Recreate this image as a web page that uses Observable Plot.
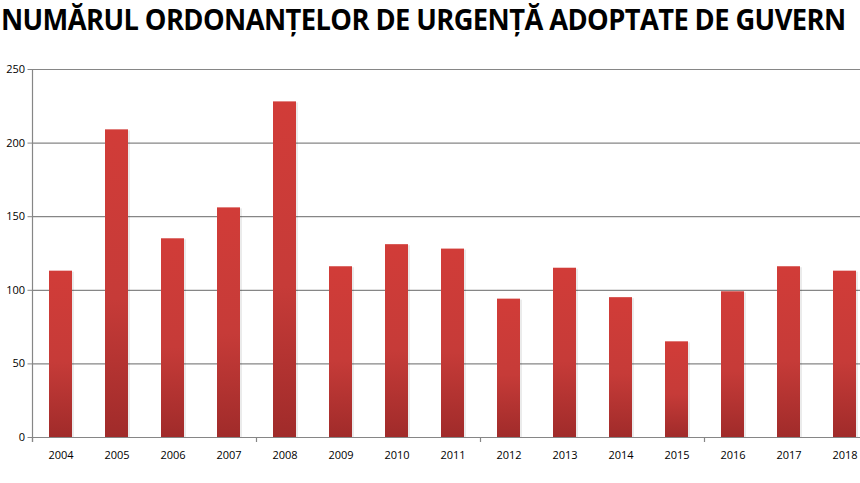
<!DOCTYPE html>
<html><head><meta charset="utf-8">
<script src="https://cdn.jsdelivr.net/npm/d3@7"></script>
<script src="https://cdn.jsdelivr.net/npm/@observablehq/plot@0.6"></script>
<style>
html,body{margin:0;padding:0;background:#fff;overflow:hidden;}
#wrap{width:860px;height:483px;overflow:hidden;position:relative;}
#title{height:45px;font-family:"Open Sans",sans-serif;font-weight:700;font-size:29px;color:#000;white-space:nowrap;line-height:38px;padding-left:1px;letter-spacing:-0.6px;transform:scaleX(0.94);transform-origin:0 0;}
#chart svg{max-width:none !important;}
</style></head>
<body><div id="wrap"><div id="title">NUMĂRUL ORDONANȚELOR DE URGENȚĂ ADOPTATE DE GUVERN</div><div id="chart"></div></div>
<script>
const years = ["2004","2005","2006","2007","2008","2009","2010","2011","2012","2013","2014","2015","2016","2017","2018"];
const counts = [113, 209, 135, 156, 228, 116, 131, 128, 94, 115, 95, 65, 99, 116, 113];
const yTicks = [0, 50, 100, 150, 200, 250];
const data = years.map((y, i) => ({year: y, value: counts[i]}));
const boundaryTicks = years.filter((d, i) => i % 4 === 0);

const plot = Plot.plot({
  width: 873,
  height: 438,
  marginLeft: 32.5,
  marginRight: 0,
  marginTop: 24,
  marginBottom: 46,
  style: {fontFamily: "'Open Sans', sans-serif", fontSize: "11px", color: "#000", overflow: "visible", maxWidth: "none"},
  x: {domain: years, paddingInner: 0.59, paddingOuter: 0.295, align: 0.5, label: null, axis: null},
  y: {domain: [0, 250], ticks: yTicks, label: null, axis: null},
  marks: [
    () => {
      const ns = "http://www.w3.org/2000/svg";
      const defs = document.createElementNS(ns, "defs");
      defs.innerHTML = `<linearGradient id="barGrad" x1="0" y1="0" x2="0" y2="1">
        <stop offset="0" stop-color="#d13c38"/>
        <stop offset="0.55" stop-color="#c63b38"/>
        <stop offset="1" stop-color="#a02b2a"/></linearGradient>`;
      return defs;
    },
    Plot.ruleY(yTicks.filter(d => d > 0), {stroke: "#868686", strokeWidth: 1.2}),
    Plot.barY(data, {x: "year", y: "value", fill: "#000", fillOpacity: 0.08, dx: 2, dy: 1}),
    Plot.barY(data, {x: "year", y: "value", fill: "url(#barGrad)"}),
    Plot.ruleY([0], {stroke: "#868686", strokeWidth: 1.2}),
    Plot.axisY({ticks: yTicks, tickSize: 5, tickPadding: 3, stroke: "#868686", fill: "#000", fontSize: 11}),
    Plot.axisX({tickSize: 0, tickPadding: 14, fill: "#000", fontSize: 11}),
    (index, scales, values, dims) => {
      const ns = "http://www.w3.org/2000/svg";
      const g = document.createElementNS(ns, "g");
      const x = scales.x, step = x.step();
      const y0 = scales.y(0), y1 = scales.y(250);
      const vl = document.createElementNS(ns, "line");
      vl.setAttribute("x1", dims.marginLeft); vl.setAttribute("x2", dims.marginLeft);
      vl.setAttribute("y1", y1); vl.setAttribute("y2", y0 + 5);
      vl.setAttribute("stroke", "#868686"); vl.setAttribute("stroke-width", 1.2);
      g.appendChild(vl);
      for (const yr of boundaryTicks) {
        const bx = x(yr) - (step - x.bandwidth()) / 2;
        const t = document.createElementNS(ns, "line");
        t.setAttribute("x1", bx); t.setAttribute("x2", bx);
        t.setAttribute("y1", y0); t.setAttribute("y2", y0 + 5);
        t.setAttribute("stroke", "#868686"); t.setAttribute("stroke-width", 1.2);
        g.appendChild(t);
      }
      return g;
    }
  ]
});
document.getElementById("chart").appendChild(plot);
</script></body></html>
